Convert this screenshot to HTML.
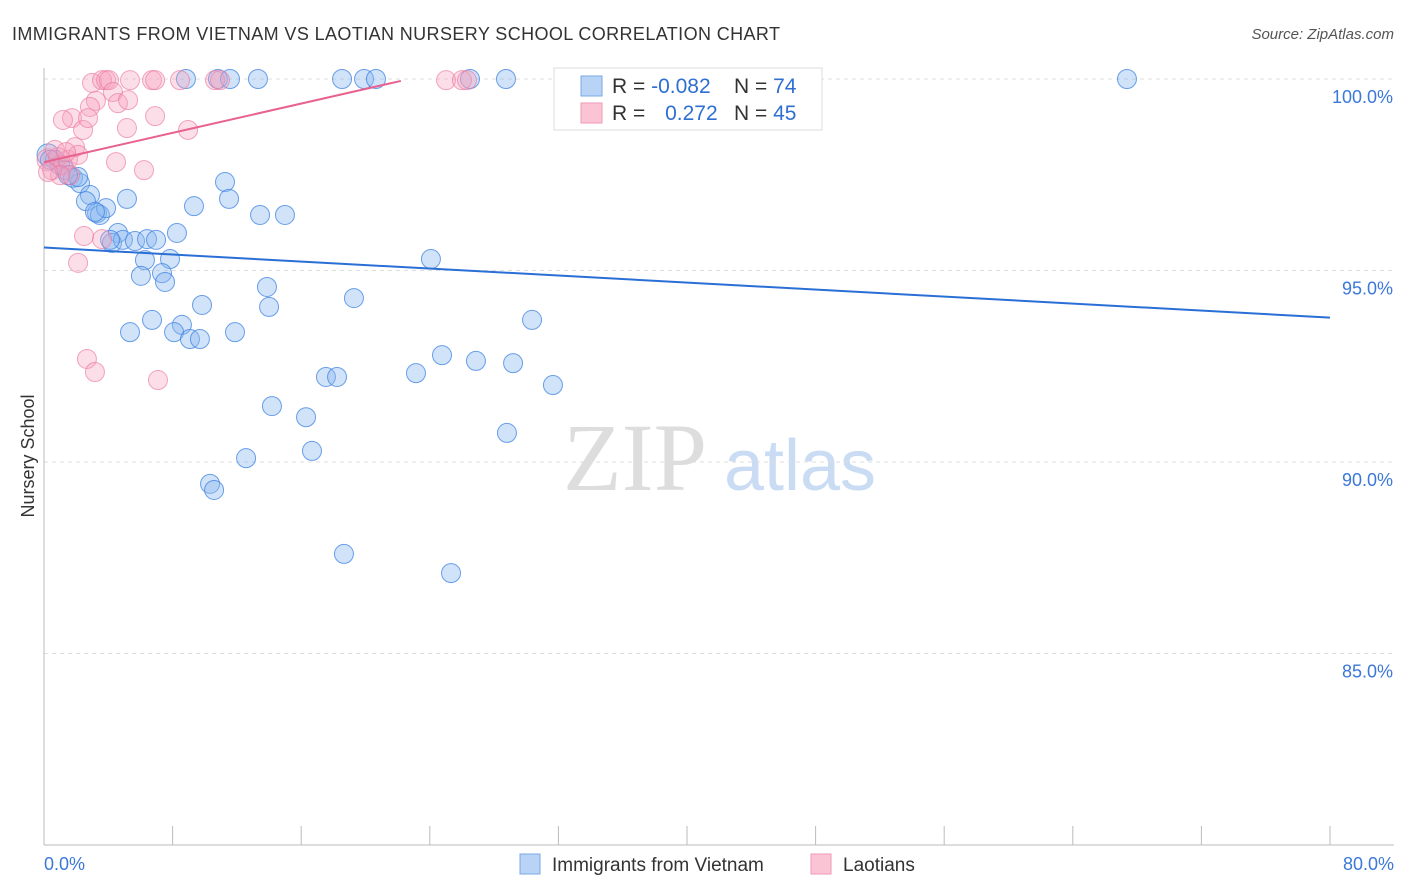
<!DOCTYPE html>
<html><head><meta charset="utf-8"><style>
body{margin:0;background:#fff;font-family:"Liberation Sans",sans-serif;}
svg{display:block}
</style></head><body>
<svg id="chart" width="1406" height="892">
<text x="12" y="40" font-size="18" fill="#333" textLength="768">IMMIGRANTS FROM VIETNAM VS LAOTIAN NURSERY SCHOOL CORRELATION CHART</text>
<text x="1394" y="39" font-size="15" fill="#555" font-style="italic" text-anchor="end">Source: ZipAtlas.com</text>
<text x="34" y="456" font-size="18" fill="#333" transform="rotate(-90 34 456)" text-anchor="middle">Nursery School</text>
<text x="635" y="490" font-size="96" fill="#ddd" font-family="Liberation Serif,serif" text-anchor="middle">ZIP</text>
<text x="800" y="490" font-size="72" fill="#c9dcf3" text-anchor="middle">atlas</text>
<g id="grid"></g><g id="axes"></g><g id="pts"></g><g id="trend"></g>
<g>
<rect x="554" y="68" width="268" height="62" fill="#fff" stroke="#ddd"/>
<rect x="581" y="76" width="21" height="20" fill="#b8d3f5" stroke="#7aa9e6"/>
<rect x="581" y="103" width="21" height="20" fill="#fbc4d5" stroke="#ef9ab6"/>
<text x="612" y="93" font-size="21" fill="#333">R = <tspan fill="#2f6fd1">-0.082</tspan></text>
<text x="734" y="93" font-size="21" fill="#333">N = <tspan fill="#2f6fd1">74</tspan></text>
<text x="612" y="120" font-size="21" fill="#333">R = <tspan fill="#2f6fd1" dx="14">0.272</tspan></text>
<text x="734" y="120" font-size="21" fill="#333">N = <tspan fill="#2f6fd1">45</tspan></text>
</g>
<g>
<rect x="520" y="854" width="20" height="20" fill="#b8d3f5" stroke="#7aa9e6"/>
<text x="552" y="871" font-size="19" fill="#333">Immigrants from Vietnam</text>
<rect x="811" y="854" width="20" height="20" fill="#fbc4d5" stroke="#ef9ab6"/>
<text x="843" y="871" font-size="19" fill="#333">Laotians</text>
</g>
</svg>
<script>
const yTicks=[100,95,90,85];
const yTickLabels=["100.0%","95.0%","90.0%","85.0%"];
const xTickLabels=["0.0%","80.0%"];
const bluePx=[[48,155],[55,160],[60,165],[65,170],[73,178],[80,183],[78,177],[90,195],[86,201],[97,213],[100,215],[106,208],[95,212],[127,199],[118,233],[112,243],[123,240],[135,241],[147,239],[156,240],[177,233],[145,260],[170,259],[141,276],[162,273],[165,282],[225,182],[229,199],[194,206],[260,215],[285,215],[152,320],[130,332],[182,325],[174,332],[190,339],[200,339],[202,305],[235,332],[267,287],[269,307],[354,298],[431,259],[532,320],[442,355],[476,361],[513,363],[416,373],[326,377],[337,377],[553,385],[272,406],[306,417],[312,451],[507,433],[246,458],[210,484],[214,490],[344,554],[451,573],[186,79],[218,79],[230,79],[258,79],[342,79],[364,79],[376,79],[470,79],[506,79],[740,79],[1127,79],[50,160],[68,175],[110,240]];
const pinkPx=[[48,160],[52,170],[58,157],[63,165],[68,160],[75,147],[72,118],[63,120],[83,130],[92,83],[96,101],[90,107],[88,118],[102,80],[106,80],[109,80],[113,92],[118,103],[128,100],[127,128],[130,80],[152,80],[155,80],[155,116],[144,170],[116,162],[188,130],[180,80],[215,80],[220,80],[446,80],[462,80],[467,80],[84,236],[102,239],[78,263],[87,359],[95,372],[158,380],[70,175],[78,155],[60,175],[55,150],[48,172],[66,152]];
const toX=p=>(p-44)/1286*80, toY=p=>100-(p-79)/191.5*5;
const blueX=bluePx.map(p=>+toX(p[0]).toFixed(2)), blueY=bluePx.map(p=>+toY(p[1]).toFixed(2));
const pinkX=pinkPx.map(p=>+toX(p[0]).toFixed(2)), pinkY=pinkPx.map(p=>+toY(p[1]).toFixed(2));
const blueTrend=[95.6,93.77];
const pinkTrend=[97.83,99.95,22.2];
const xs=v=>44+v/80*1286, ys=v=>79+(100-v)/5*191.5;
const NS="http://www.w3.org/2000/svg";
function mk(t,a,parent){const e=document.createElementNS(NS,t);for(const k in a)e.setAttribute(k,a[k]);document.getElementById(parent).appendChild(e);return e;}
yTicks.forEach((v,i)=>{
 const l=mk('line',{x1:44,x2:1394,y1:ys(v),y2:ys(v),stroke:'#ddd','stroke-dasharray':'4,4'},'grid');
 
 
 const t=mk('text',{x:1393,y:ys(v)+24,'font-size':18,fill:'#3b78d8','text-anchor':'end'},'grid');
 t.textContent=yTickLabels[i];
 
 
});
const ax=mk('line',{x1:44,x2:44,y1:68,y2:845,stroke:'#bbb'},'axes');


const bx=mk('line',{x1:44,x2:1394,y1:845,y2:845,stroke:'#bbb'},'axes');


for(let i=0;i<=10;i++){const t=mk('line',{x1:xs(i*8),x2:xs(i*8),y1:826,y2:845,stroke:'#bbb'},'axes');
 
 }
[[0,'start',44],[80,'end',1394]].forEach((d,i)=>{const t=mk('text',{x:d[2],y:870,'font-size':18,fill:'#3b78d8','text-anchor':d[1]},'axes');t.textContent=xTickLabels[i];
 
 });
blueX.forEach((x,i)=>{const c=mk('circle',{cx:xs(x),cy:ys(blueY[i]),r:i==0?11:9.5,fill:'rgba(140,185,240,0.4)',stroke:'rgba(60,130,225,0.75)','stroke-width':1},'pts');
 
 });
pinkX.forEach((x,i)=>{const c=mk('circle',{cx:xs(x),cy:ys(pinkY[i]),r:i==0?11:9.5,fill:'rgba(245,160,190,0.35)',stroke:'rgba(235,120,160,0.65)','stroke-width':1},'pts');
 
 });
const bl=mk('line',{x1:xs(0),y1:ys(blueTrend[0]),x2:xs(80),y2:ys(blueTrend[1]),stroke:'#2a6fd6','stroke-width':2},'trend');


const pl=mk('line',{x1:xs(0),y1:ys(pinkTrend[0]),x2:xs(pinkTrend[2]),y2:ys(pinkTrend[1]),stroke:'#e8628f','stroke-width':2},'trend');


</script>
</body></html>
